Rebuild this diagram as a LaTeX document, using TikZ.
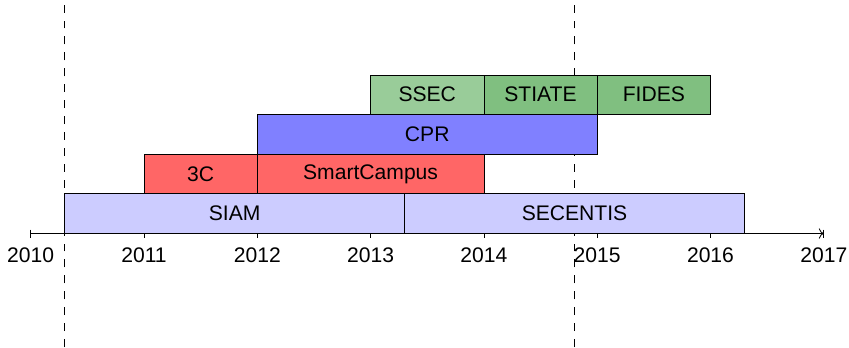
\documentclass[tikz,border=0pt]{standalone}
\usepackage{fontspec}
\setmainfont{Liberation Sans}
\usepackage{tikz}
\usetikzlibrary{arrows.meta,calc}

\begin{document}
\begin{tikzpicture}[x=2cm, y=0.7cm, every node/.style={font=\fontsize{10.6}{12}\selectfont},
    period/.style={draw, thin},
    marker/.style={dash pattern=on 4pt off 4pt}]
    \useasboundingbox (-0.271,-2.863) rectangle (7.2225,5.889);

    % Reference dates
    \draw[marker] (0.3,-2.863) -- (0.3,5.889);
    \draw[marker] (4.8,-2.863) -- (4.8,5.889);

    % Time axis
    \draw[->] (0,0) -- (7,0);
    \foreach \i [evaluate=\i as \yr using int(2010+\i)] in {0,...,7}
        \draw (\i,2pt) -- (\i,-2pt) node[below=1.5pt] (y\i) {\yr};

    % Projects
    \draw[period, fill=blue!20] (0.3,0) rectangle (3.3,1);
    \node (siam) at (1.8,0.5) {SIAM};
    \draw[period, fill=blue!20] (3.3,0) rectangle (6.3,1);
    \node (secentis) at (4.8,0.5) {SECENTIS};

    \draw[period, fill=red!60] (1,1) rectangle (2,2);
    \node (threec) at (1.5,1.5) {3C};
    \draw[period, fill=red!60] (2,1) rectangle (4,2);
    \node (smartcampus) at (3,1.5) {SmartCampus};

    \draw[period, fill=blue!50] (2,2) rectangle (5,3);
    \node (cpr) at (3.5,2.5) {CPR};

    \draw[period, fill=green!50!black!40] (3,3) rectangle (4,4);
    \node (ssec) at (3.5,3.5) {SSEC};
    \draw[period, fill=green!50!black!50] (4,3) rectangle (5,4);
    \node (stiate) at (4.5,3.5) {STIATE};
    \draw[period, fill=green!50!black!50] (5,3) rectangle (6,4);
    \node (fides) at (5.5,3.5) {FIDES};
\end{tikzpicture}
\end{document}
